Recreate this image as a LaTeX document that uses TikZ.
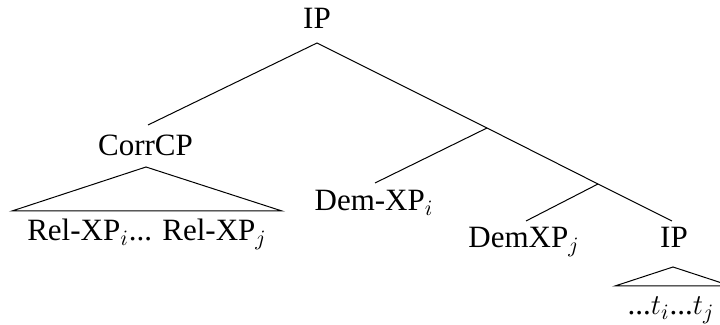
\documentclass[tikz,border=0pt]{standalone}
\usepackage{fontspec}
\setmainfont{Liberation Serif}
\begin{document}
\begin{tikzpicture}[x=0.5pt,y=-0.5pt,line width=0.5pt,
  lbl/.style={anchor=base,inner sep=0pt,font=\fontsize{15.5}{18}\selectfont}]
\clip (0,0) rectangle (720,325);
% labels
\node[lbl] (ip) at (317,29) {IP};
\node[lbl] (corrcp) at (145.5,156) {CorrCP};
\node[lbl] (relxp) at (147,241) {Rel-XP$_i$... Rel-XP$_j$};
\node[lbl] (demxpi) at (374,211) {Dem-XP$_i$};
\node[lbl] (demxpj) at (524,248) {DemXP$_j$};
\node[lbl] (ipb) at (674,248) {IP};
\node[lbl] (traces) at (671,315) {...$t_i$...$t_j$};
% branch points
\coordinate (ipB) at (317,43);
\coordinate (corrT) at (148,125);
\coordinate (b1) at (487,128);
\coordinate (b2) at (598,184);
\coordinate (demiT) at (375,183);
\coordinate (demjT) at (526,221);
\coordinate (ipbT) at (672,221);
% triangles
\coordinate (t1a) at (146,167);
\coordinate (t1l) at (12,211);
\coordinate (t1r) at (282,211);
\coordinate (t2a) at (673,267);
\coordinate (t2l) at (615,286);
\coordinate (t2r) at (731,286);
% edges
\draw (corrT) -- (ipB) -- (b1) -- (b2) -- (ipbT);
\draw (b1) -- (demiT);
\draw (b2) -- (demjT);
\draw (t1l) -- (t1a) -- (t1r) -- cycle;
\draw (t2l) -- (t2a) -- (t2r) -- cycle;
\end{tikzpicture}
\end{document}
